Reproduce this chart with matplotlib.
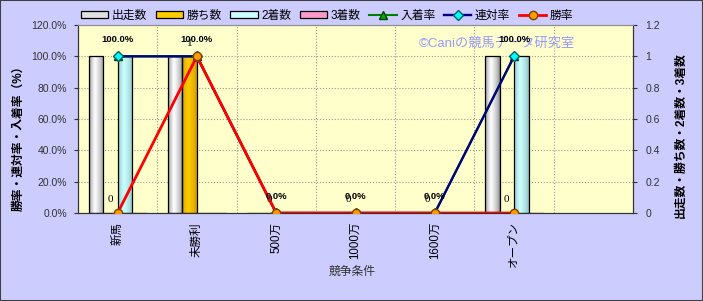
import matplotlib
matplotlib.use("Agg")
import matplotlib.pyplot as plt
import matplotlib.patches as mpatches
import matplotlib.colors as mcolors
import numpy as np

plt.rcParams["font.family"] = ["Liberation Sans", "Noto Sans CJK JP"]

# data
categories = ["新馬", "未勝利", "500万", "1000万", "1600万", "オープン", ""]
starts = [1, 1, 0, 0, 0, 1, np.nan]
wins = [0, 1, 0, 0, 0, 0, np.nan]
seconds = [1, 0, 0, 0, 0, 1, np.nan]
thirds = [0, 0, 0, 0, 0, 0, np.nan]
place_rate = [100, 100, 0, 0, 0, 100, np.nan]
quinella_rate = [100, 100, 0, 0, 0, 100, np.nan]
win_rate = [0, 100, 0, 0, 0, 0, np.nan]

bar_names = ["出走数", "勝ち数", "2着数", "3着数"]
bar_values = [starts, wins, seconds, thirds]
# (edge shade, highlight) for the cylinder look
bar_colors = [("#808080", "#ffffff"), ("#c89400", "#ffcc00"),
              ("#86b8b8", "#ccffff"), ("#c0608c", "#ff99cc")]


def shade_bars(ax, bars, c_edge, c_mid):
    edge = np.array(mcolors.to_rgb(c_edge))
    mid = np.array(mcolors.to_rgb(c_mid))
    t = np.linspace(0, 1, 64)
    s = np.where(t < 0.4, t / 0.4, (1 - t) / 0.6) ** 0.6
    img = (edge[None, :] + (mid - edge)[None, :] * s[:, None])[None, :, :]
    for b in bars:
        h = b.get_height()
        if not np.isfinite(h) or h <= 0:
            continue
        x0, w = b.get_x(), b.get_width()
        im = ax.imshow(img, extent=(x0, x0 + w, 0, h), aspect="auto",
                       zorder=2, interpolation="bilinear")
        im.set_clip_path(b)


fig = plt.figure(figsize=(7.03, 3.01), dpi=100, facecolor="#ccccff")
ax = fig.add_axes([78 / 703, 1 - 213 / 301, 555 / 703, 188 / 301])
ax.set_facecolor("#ffffcc")
ax.set_axisbelow(True)

x = np.arange(len(categories))
w = 0.183
for k, (vals, (ce, cm)) in enumerate(zip(bar_values, bar_colors)):
    bars = ax.bar(x + (k - 1.5) * w, vals, w, facecolor="none",
                  edgecolor="black", linewidth=0.9, zorder=3)
    shade_bars(ax, bars, ce, cm)

# value labels on 勝ち数
for i, v in enumerate(wins):
    if np.isfinite(v):
        ax.annotate(f"{v:g}", (x[i] - 0.5 * w, v), xytext=(0, 9.5),
                    textcoords="offset points", ha="center", va="center",
                    fontsize=8, family="Liberation Serif", zorder=6)

ax2 = ax.twinx()
ax2.patch.set_visible(False)
ax2.plot(x, place_rate, color="#008000", lw=1.5, marker="^", ms=6,
         mfc="#00b000", mec="#004000", zorder=3)
ax2.plot(x, quinella_rate, color="#000080", lw=1.7, marker="D", ms=5,
         mfc="#00ffff", mec="#006060", zorder=4)
ax2.plot(x, win_rate, color="#ff0000", lw=2.0, marker="o", ms=6,
         mfc="#ff9900", mec="#804000", zorder=5)

for i, v in enumerate(quinella_rate):
    if np.isfinite(v):
        ax2.annotate(f"{v:.1f}%", (x[i], v), xytext=(0, 12),
                     textcoords="offset points", ha="center", va="center",
                     fontsize=6.8, fontweight="bold", zorder=7)

# axes, ticks and grid
ax.set_xlim(-0.5, len(categories) - 0.5)
ax.set_ylim(0, 1.2)
ax2.set_ylim(0, 120)
ax.yaxis.tick_right()
ax2.yaxis.tick_left()
ax.set_yticks(np.arange(0, 1.21, 0.2), ["0", "0.2", "0.4", "0.6", "0.8", "1", "1.2"])
ax2.set_yticks(np.arange(0, 121, 20), [f"{v:.1f}%" for v in range(0, 121, 20)])
ax.set_xticks(x, categories, rotation=90, fontsize=8.3)
ax.set_xticks(np.arange(0.5, len(categories) - 0.5, 1), minor=True)
ax.tick_params(axis="x", which="both", length=0, pad=6.5)
ax.tick_params(axis="y", length=3, pad=6, labelsize=7.5, colors="#333333")
ax2.tick_params(axis="y", length=3, pad=5, labelsize=7.5, colors="#333333")
ax.grid(which="minor", axis="x", ls=":", color="#999999", lw=0.8)
ax.grid(which="major", axis="y", ls=":", color="#999999", lw=0.8)
for a in (ax, ax2):
    for sp in a.spines.values():
        sp.set_color("#333333")
    a.spines["top"].set_color("#909090")

ax.text(0.755, 0.90, "©Caniの競馬データ研究室", transform=ax.transAxes,
        ha="center", va="center", fontsize=9.5, color="#9999ff", zorder=1)

fig.text(19 / 703, 1 - 135 / 301, "勝率・連対率・入着率（%）", rotation=90,
         ha="center", va="center", fontsize=8.5, fontweight="bold")
fig.text(681 / 703, 1 - 135 / 301, "出走数・勝ち数・2着数・3着数", rotation=90,
         ha="center", va="center", fontsize=8.5, fontweight="bold")
fig.text(352 / 703, 1 - 272 / 301, "競争条件", ha="center", va="center",
         fontsize=8.5, color="#333333")

handles = [mpatches.Rectangle((0, 0), 1, 1, facecolor=cm if k else "#e0e0e0",
                              edgecolor="black", lw=0.9)
           for k, (ce, cm) in enumerate(bar_colors)]
handles += ax2.get_lines()
labels = bar_names + ["入着率", "連対率", "勝率"]
fig.legend(handles, labels, loc="center", bbox_to_anchor=(327 / 703, 1 - 16 / 301),
           ncol=7, frameon=False, fontsize=8.5, handlelength=2.3, handleheight=0.55,
           handletextpad=0.3, columnspacing=0.75)

fig.add_artist(mpatches.Rectangle((0, 0), 1, 1, transform=fig.transFigure,
                                  fill=False, edgecolor="#404040", lw=1.5))

fig.savefig("out.png", dpi=100, facecolor=fig.get_facecolor())
